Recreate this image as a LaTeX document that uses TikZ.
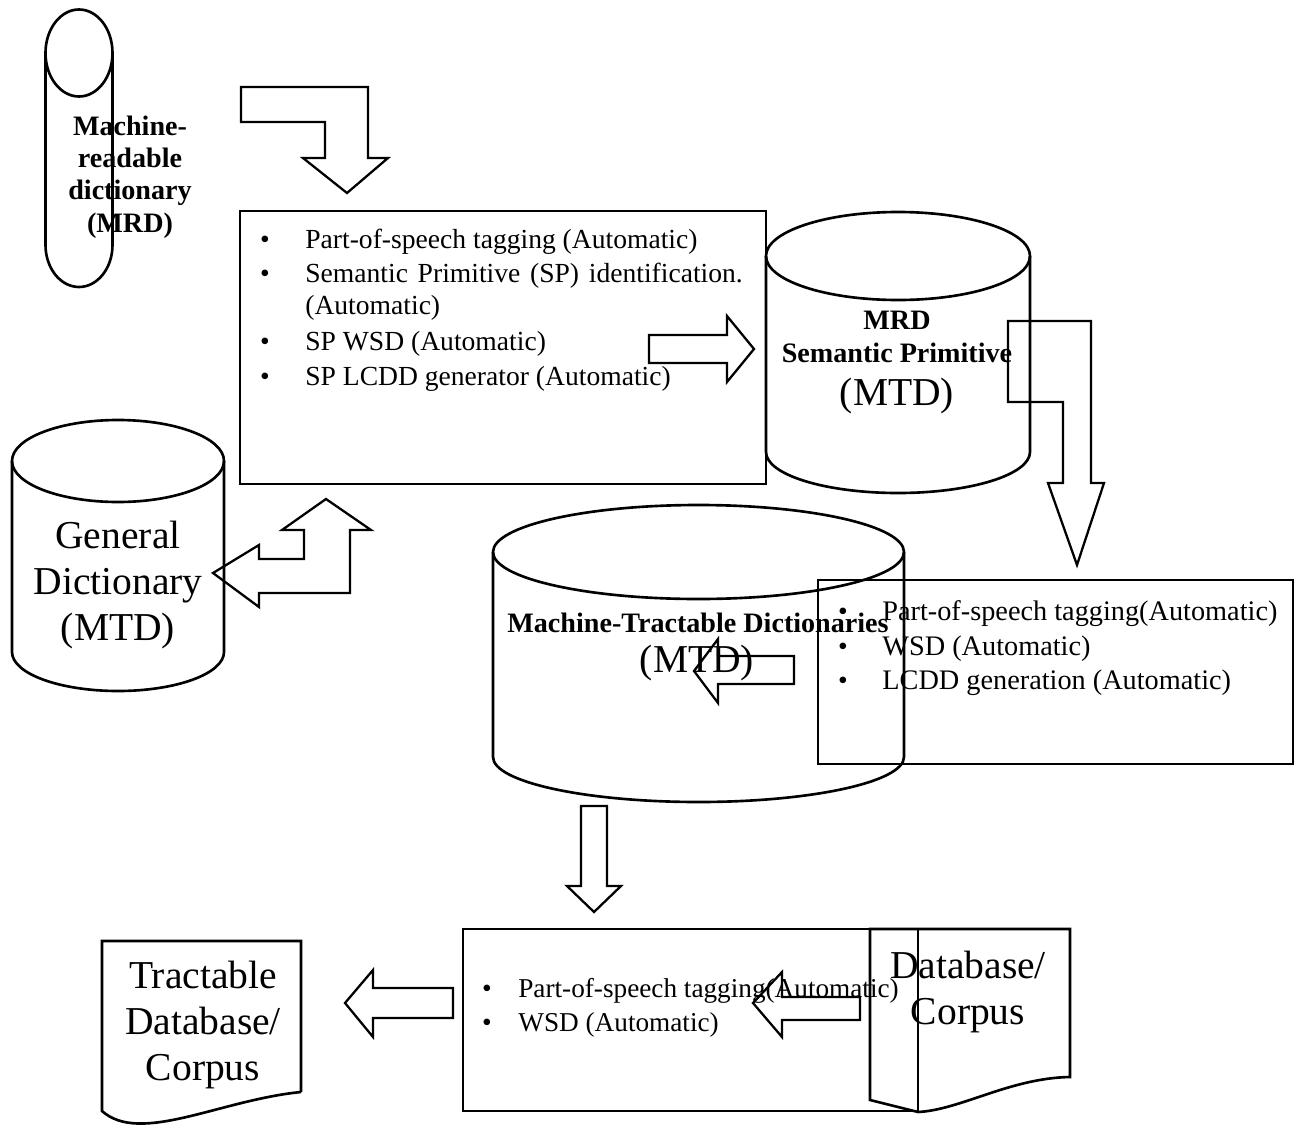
\documentclass[tikz,border=0pt]{standalone}
\usepackage{fontspec}
\setmainfont{Liberation Serif}

\begin{document}
\begin{tikzpicture}[x=0.02cm,y=-0.02cm,
  outline/.style={line width=1.5pt},
  blockarrow/.style={line width=1.3pt,line join=miter},
  listline/.style={anchor=base west,inner sep=0pt,font=\fontsize{15.7}{19}\selectfont},
  bulletmark/.style={anchor=base,inner sep=0pt,font=\fontsize{15.7}{19}\selectfont},
  bigtext/.style={inner sep=0pt,align=center,font=\fontsize{22.5}{26.3}\selectfont},
  boldtext/.style={inner sep=0pt,align=center,font=\bfseries\fontsize{16}{18.4}\selectfont}]
\useasboundingbox (0,0) rectangle (1299,1126);
% Machine-readable dictionary (tall drum)
\draw[outline] (79,53) ellipse [x radius=33.5,y radius=43.5];
\draw[outline] (45.5,53) -- (45.5,245)
  arc [start angle=180,end angle=0,x radius=33.5,y radius=42] -- (112.5,53);
\node[boldtext] (mrd) at (130,177) {Machine-\\readable\\dictionary\\(MRD)};
% Arrow into the first box
\draw[blockarrow] (241,87) -- (368,87) -- (368,158) -- (388,158) -- (347,193)
  -- (303,158) -- (325,158) -- (325,122) -- (241,122) -- cycle;
% First box
\draw[outline] (240,211) rectangle (766,484);
\foreach \yy in {248,282,350,385}
  \node[bulletmark] (dotA\yy) at (265,\yy) {\textbullet};
\node[listline] (posA) at (305,248) {Part-of-speech tagging (Automatic)};
\node[listline] (spid) at (305,282) {\hbox to 249pt{Semantic Primitive (SP) identification.}};
\node[listline] (spidB) at (305,314) {(Automatic)};
\node[listline] (spwsd) at (305,350) {SP WSD (Automatic)};
\node[listline] (splcdd) at (305,385) {SP LCDD generator (Automatic)};
% Arrow to the MRD semantic primitive drum
\draw[blockarrow] (649,335) -- (727,335) -- (727,316) -- (754,349) -- (727,382)
  -- (727,363) -- (649,363) -- cycle;
% MRD semantic primitive drum
\draw[outline] (898,256) ellipse [x radius=132,y radius=44];
\draw[outline] (766,256) -- (766,452)
  arc [start angle=180,end angle=0,x radius=132,y radius=41] -- (1030,256);
\node[boldtext] (mrdsp) at (897,337) {MRD\\Semantic Primitive};
\node[bigtext,anchor=base] (mrdspmtd) at (897,405) {(MTD)};
% Bent arrow down to the second box
\draw[blockarrow] (1008,321) -- (1091,321) -- (1091,483) -- (1104,483) -- (1077,565)
  -- (1048,483) -- (1063,483) -- (1063,402) -- (1008,402) -- cycle;
% General dictionary drum
\draw[outline] (118,461) ellipse [x radius=106,y radius=41];
\draw[outline] (12,461) -- (12,652)
  arc [start angle=180,end angle=0,x radius=106,y radius=39] -- (224,461);
\node[bigtext] (gen) at (118,585) {General\\Dictionary\\(MTD)};
% Two-way arrow between the general dictionary and the first box
\draw[blockarrow] (213,573) -- (259,545) -- (259,559) -- (304,559) -- (304,530)
  -- (282,530) -- (326,499) -- (371,530) -- (350,530) -- (350,593) -- (259,593)
  -- (259,607) -- cycle;
% Machine-tractable dictionaries drum
\draw[outline] (698.5,552) ellipse [x radius=205.5,y radius=47];
\draw[outline] (493,552) -- (493,757)
  arc [start angle=180,end angle=0,x radius=205.5,y radius=45] -- (904,552);
\node[boldtext,anchor=base] (mtd) at (698,632) {Machine-Tractable Dictionaries};
\node[bigtext,anchor=base] (mtdabbr) at (697,672) {(MTD)};
% Second box
\draw[outline] (818,580) rectangle (1293,764);
\foreach \yy in {620,655,689}
  \node[bulletmark] (dotB\yy) at (843,\yy) {\textbullet};
\node[listline,font=\fontsize{16.1}{19}\selectfont] (posB) at (882,620) {Part-of-speech tagging(Automatic)};
\node[listline,font=\fontsize{16.1}{19}\selectfont] (wsdB) at (882,655) {WSD (Automatic)};
\node[listline,font=\fontsize{16.1}{19}\selectfont] (lcddB) at (882,689) {LCDD generation (Automatic)};
% Arrow back into the MTD drum
\draw[blockarrow] (794,656) -- (718,656) -- (718,639) -- (694,671) -- (718,703)
  -- (718,684) -- (794,684) -- cycle;
% Arrow down to the third box
\draw[blockarrow] (581,806) -- (607,806) -- (607,886) -- (621,886) -- (594,912)
  -- (567,886) -- (581,886) -- cycle;
% Third box
\draw[outline] (463,929) rectangle (918,1111);
\foreach \yy in {997,1031}
  \node[bulletmark] (dotC\yy) at (487,\yy) {\textbullet};
\node[listline,font=\fontsize{15.5}{19}\selectfont] (posC) at (518,997) {Part-of-speech tagging(Automatic)};
\node[listline,font=\fontsize{15.5}{19}\selectfont] (wsdC) at (518,1031) {WSD (Automatic)};
% Database/Corpus document
\draw[outline] (870,1100) -- (870,929) -- (1070,929) -- (1070,1077)
  .. controls (1010,1078) and (960,1110) .. (918,1112) -- cycle;
\node[bigtext] (corpus) at (968,992) {Database/\\Corpus};
% Arrows to the left
\draw[blockarrow] (860,997) -- (782,997) -- (782,972) -- (753,1003) -- (782,1037)
  -- (782,1020) -- (860,1020) -- cycle;
\draw[blockarrow] (453,988) -- (373,988) -- (373,970) -- (345,1003) -- (373,1037)
  -- (373,1018) -- (453,1018) -- cycle;
% Tractable database document
\draw[outline] (301,1092) -- (301,941) -- (102,941) -- (102,1111)
  .. controls (140,1145) and (220,1100) .. (301,1092);
\node[bigtext] (tractable) at (203,1025) {Tractable\\Database/\\Corpus};
\end{tikzpicture}
\end{document}
